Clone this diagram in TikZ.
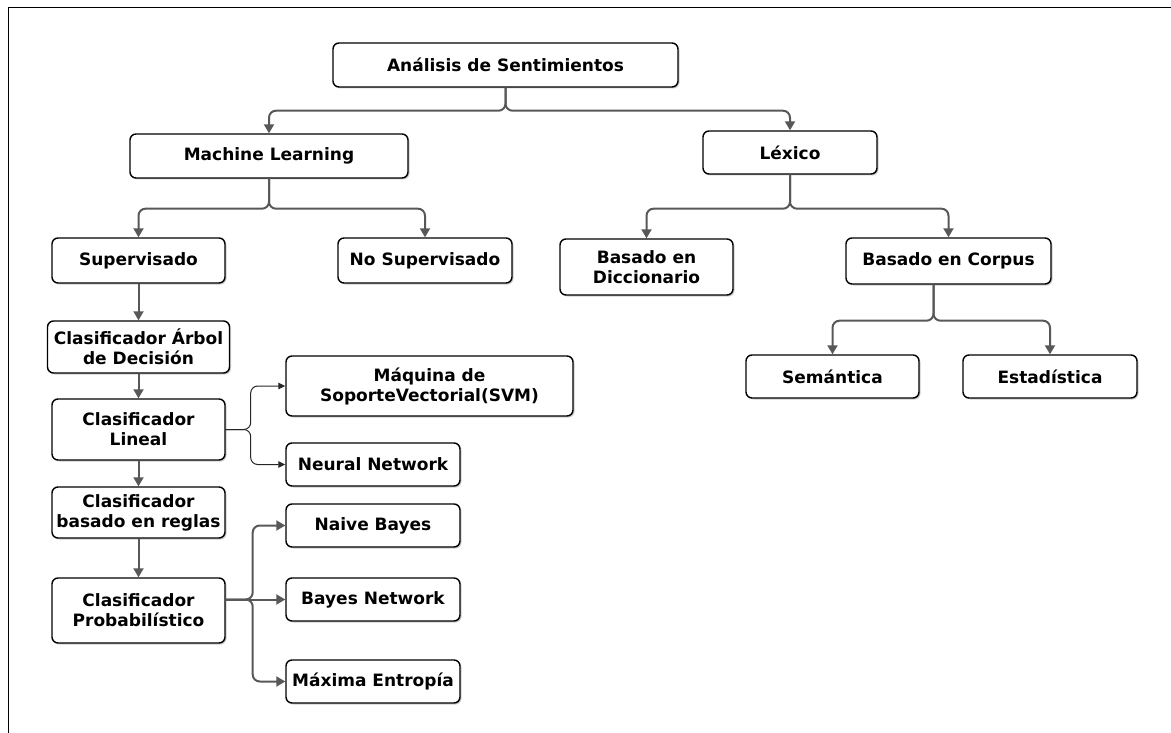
\documentclass[tikz,border=0pt]{standalone}
\usepackage{fontspec}
\setmainfont{DejaVu Sans}
\usetikzlibrary{arrows.meta,shadows}
\definecolor{linkgray}{HTML}{585858}
\begin{document}
\begin{tikzpicture}[x=1pt,y=-1pt,
  box/.style={draw=black, line width=1.4pt, rounded corners=6pt, fill=white,
    align=center, inner sep=0pt, font=\bfseries\fontsize{17}{20}\selectfont,
    drop shadow={shadow xshift=1.5pt, shadow yshift=-1.5pt, opacity=0.4}},
  conn/.style={linkgray, line width=2pt, rounded corners=7pt,
    -{Triangle[length=9pt,width=10pt]}},
  thinconn/.style={black!85, line width=1pt, rounded corners=7pt,
    -{Triangle[length=7pt,width=6.5pt]}}]
\useasboundingbox (0,0) rectangle (1171,733);
% page frame
\draw[line width=0.8pt] (8,733) -- (8,7.5) -- (1171,7.5);

% boxes
\node[box, minimum width=345pt, minimum height=44pt] (root) at (505.5,65) {Análisis de Sentimientos};
\node[box, minimum width=278pt, minimum height=44pt] (ml) at (269,156) {Machine Learning};
\node[box, minimum width=174pt, minimum height=43pt] (lex) at (790,152.5) {Léxico};
\node[box, minimum width=173pt, minimum height=45pt] (sup) at (138.5,260.5) {Supervisado};
\node[box, minimum width=174pt, minimum height=45pt] (nosup) at (425,260.5) {No Supervisado};
\node[box, minimum width=173pt, minimum height=56pt] (dic) at (646.5,267) {Basado en\\Diccionario};
\node[box, minimum width=205pt, minimum height=46pt] (corp) at (948.5,261) {Basado en Corpus};
\node[box, minimum width=173pt, minimum height=43pt] (sem) at (832.5,376.5) {Semántica};
\node[box, minimum width=174pt, minimum height=43pt] (est) at (1050,376.5) {Estadística};
\node[box, minimum width=182pt, minimum height=52pt] (arbol) at (138.5,347) {Clasificador Árbol\\de Decisión};
\node[box, minimum width=173pt, minimum height=61pt] (lin) at (138.5,429.5) {Clasificador\\Lineal};
\node[box, minimum width=287pt, minimum height=60pt] (svm) at (429.5,386) {Máquina de\\SoporteVectorial(SVM)};
\node[box, minimum width=174pt, minimum height=43pt] (nn) at (373,464.5) {Neural Network};
\node[box, minimum width=173pt, minimum height=51pt] (reg) at (138.5,512.5) {Clasificador\\basado en reglas};
\node[box, minimum width=173pt, minimum height=65pt] (prob) at (138.5,610.5) {Clasificador\\Probabilístico};
\node[box, minimum width=174pt, minimum height=43pt] (nb) at (373,525.5) {Naive Bayes};
\node[box, minimum width=174pt, minimum height=43pt] (bn) at (373,599.5) {Bayes Network};
\node[box, minimum width=174pt, minimum height=43pt] (me) at (373,681.5) {Máxima Entropía};

% tree connectors
\draw[conn] (root.south) -- ++(0,23) -| (ml.north);
\draw[conn] (root.south) -- ++(0,23) -| (lex.north);
\draw[conn] (ml.south) -- ++(0,30) -| (sup.north);
\draw[conn] (ml.south) -- ++(0,30) -| (nosup.north);
\draw[conn] (lex.south) -- ++(0,34) -| (dic.north);
\draw[conn] (lex.south) -- ++(0,34) -| (corp.north);
\draw[conn] (corp.south) ++(-15,0) -- ++(0,36) -| (sem.north);
\draw[conn] (corp.south) ++(-15,0) -- ++(0,36) -| (est.north);

% supervised chain
\draw[conn] (sup.south) -- (arbol.north);
\draw[conn] (arbol.south) -- (lin.north);
\draw[conn] (lin.south) -- (reg.north);
\draw[conn] (reg.south) -- (prob.north);

% linear classifiers
\draw[thinconn] (lin.east) -- ++(25,0) |- (svm.west);
\draw[thinconn] (lin.east) -- ++(25,0) |- (nn.west);

% probabilistic classifiers
\draw[conn] (prob.east |- bn.west) -- (bn.west);
\draw[conn] (prob.east |- bn.west) -- ++(27,0) |- (nb.west);
\draw[conn] (prob.east |- bn.west) -- ++(27,0) |- (me.west);
\end{tikzpicture}
\end{document}
